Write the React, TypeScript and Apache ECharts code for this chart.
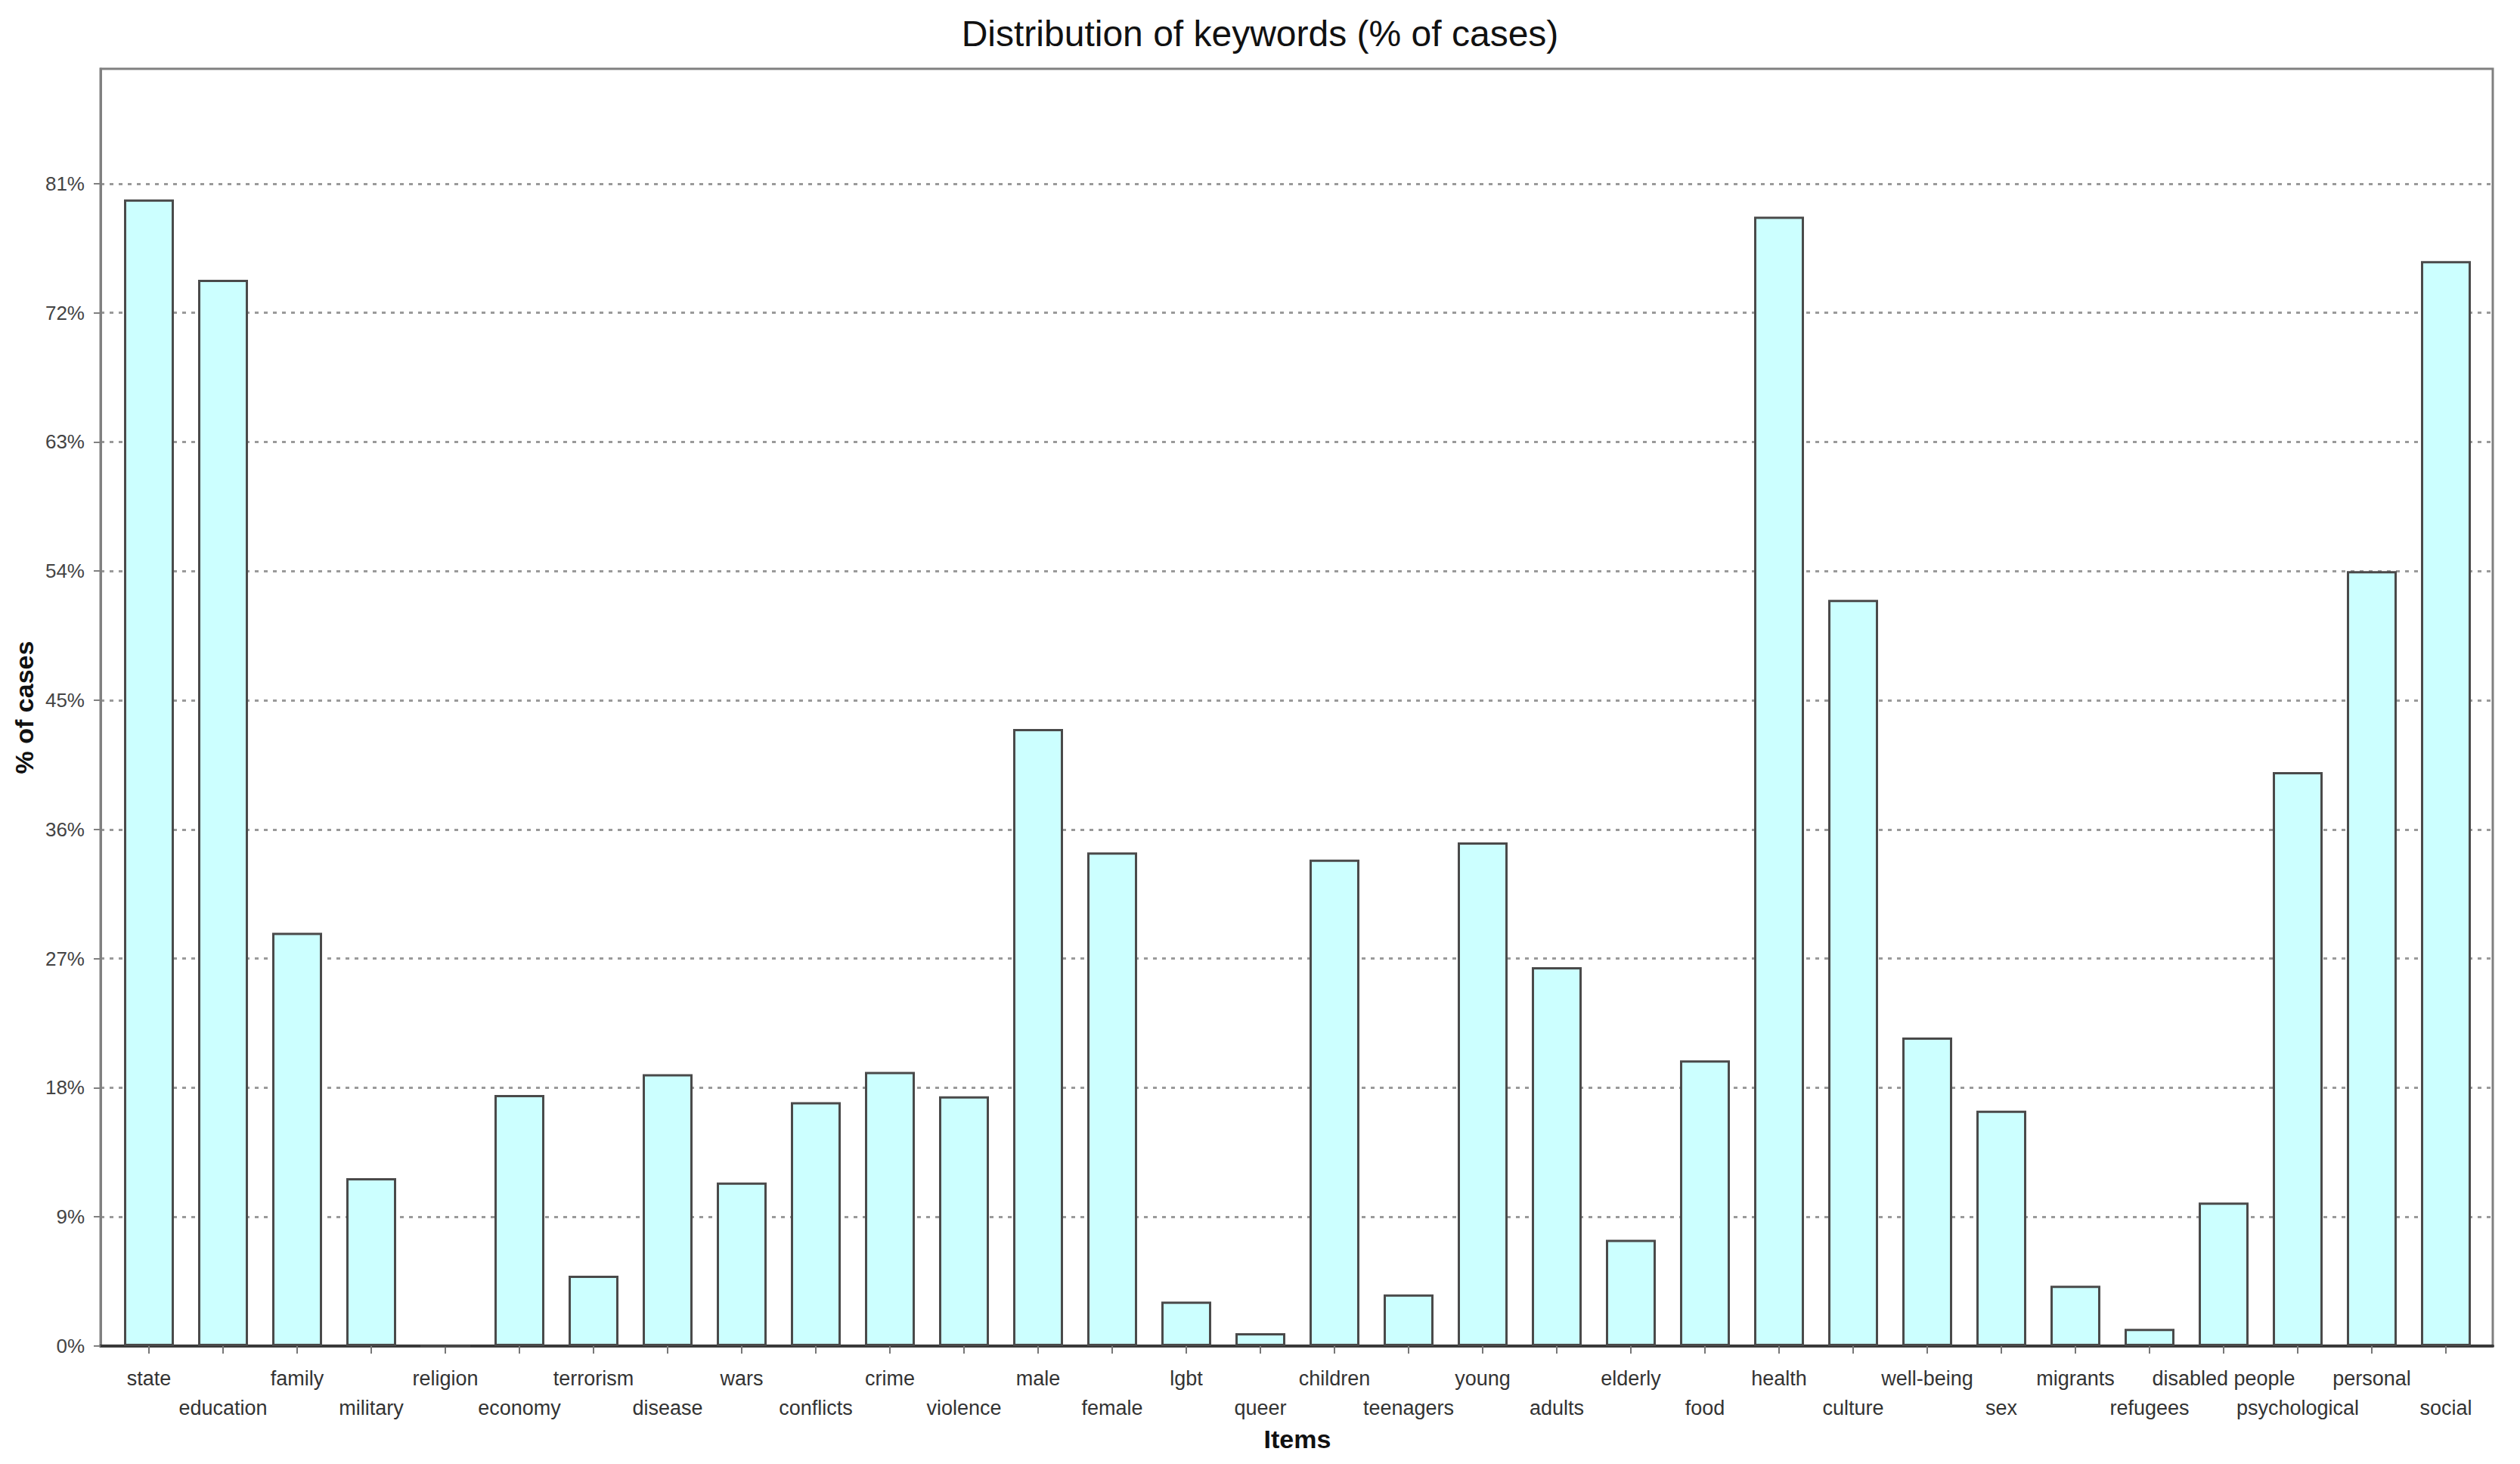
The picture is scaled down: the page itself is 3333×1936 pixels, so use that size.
import React, { useEffect, useRef } from "react";
import * as echarts from "echarts";

const TITLE = "Distribution of keywords (% of cases)";
const X_NAME = "Items";
const Y_NAME = "% of cases";

const categories = [
  "state", "education", "family", "military", "religion", "economy", "terrorism", "disease",
  "wars", "conflicts", "crime", "violence", "male", "female", "lgbt", "queer",
  "children", "teenagers", "young", "adults", "elderly", "food", "health", "culture",
  "well-being", "sex", "migrants", "refugees", "disabled people", "psychological", "personal", "social",
];

const values = [
  79.9, 74.3, 28.8, 11.7, 0, 17.5, 4.9, 18.95,
  11.4, 17.0, 19.1, 17.4, 43.0, 34.4, 3.1, 0.9,
  33.9, 3.6, 35.1, 26.4, 7.4, 19.9, 78.7, 52.0,
  21.5, 16.4, 4.2, 1.2, 10.0, 40.0, 54.0, 75.6,
];

const Y_MIN = 0;
const Y_MAX = 89;
const Y_STEP = 9;

const FONT = "'Liberation Sans', Arial, sans-serif";

export default function App() {
  const ref = useRef<HTMLDivElement>(null);

  useEffect(() => {
    if (!ref.current) return;
    const chart = echarts.init(ref.current, null, { renderer: "svg" });
    chart.setOption({
      animation: false,
      backgroundColor: "#ffffff",
      textStyle: { fontFamily: FONT },
      title: {
        text: TITLE,
        left: "center",
        top: 20,
        padding: 0,
        textStyle: { fontFamily: FONT, fontSize: 48, fontWeight: "normal", color: "#111" },
      },
      grid: [
        { left: 133, right: 36, top: 91, bottom: 156, show: true, borderColor: "#808080", borderWidth: 3, backgroundColor: "transparent" },
        { left: 148, right: 49, top: 91, bottom: 156 },
      ],
      xAxis: [
        {
          gridIndex: 0,
          type: "value",
          min: 0,
          max: 1,
          axisLine: { show: true, lineStyle: { color: "#3a3a3a", width: 4 } },
          axisTick: { show: false },
          axisLabel: { show: false },
          splitLine: { show: false },
        },
        {
          gridIndex: 1,
          type: "category",
          data: categories,
          axisLine: { show: false },
          axisTick: { show: true, alignWithLabel: true, length: 10, lineStyle: { color: "#777", width: 2 } },
          axisLabel: {
            interval: 0,
            margin: 23,
            fontSize: 27,
            lineHeight: 39,
            color: "#333",
            fontFamily: FONT,
            formatter: (v: string, i: number) => (i % 2 === 1 ? "\n" + v : v),
          },
          splitLine: { show: false },
          name: X_NAME,
          nameLocation: "middle",
          nameGap: 106,
          nameTextStyle: { fontFamily: FONT, fontSize: 34, fontWeight: "bold", color: "#111" },
        },
      ],
      yAxis: [
        {
          gridIndex: 0,
          type: "value",
          min: Y_MIN,
          max: Y_MAX,
          interval: Y_STEP,
          axisLine: { show: true, lineStyle: { color: "#808080", width: 3 } },
          axisTick: { show: true, length: 9, lineStyle: { color: "#808080", width: 2 } },
          axisLabel: {
            showMaxLabel: false,
            margin: 21,
            fontSize: 26,
            color: "#444",
            fontFamily: FONT,
            formatter: (v: number) => (v % Y_STEP === 0 ? v + "%" : ""),
          },
          splitLine: {
            show: true,
            showMaxLine: false,
            showMinLine: false,
            lineStyle: { color: "#9a9a9a", width: 3, type: [5, 7] },
          },
          name: Y_NAME,
          nameLocation: "middle",
          nameGap: 83,
          nameRotate: 90,
          nameTextStyle: { fontFamily: FONT, fontSize: 34, fontWeight: "bold", color: "#111" },
        },
        {
          gridIndex: 1,
          type: "value",
          min: Y_MIN,
          max: Y_MAX,
          show: false,
          splitLine: { show: false },
        },
      ],
      series: [
        {
          type: "bar",
          xAxisIndex: 1,
          yAxisIndex: 1,
          data: values,
          barWidth: 66,
          itemStyle: { color: "#CCFFFF", borderColor: "#4a4a4a", borderWidth: 3 },
        },
      ],
    });
    return () => chart.dispose();
  }, []);

  return (
    <div
      ref={ref}
      style={{ position: "absolute", left: 0, top: 0, width: 3333, height: 1936 }}
    />
  );
}
